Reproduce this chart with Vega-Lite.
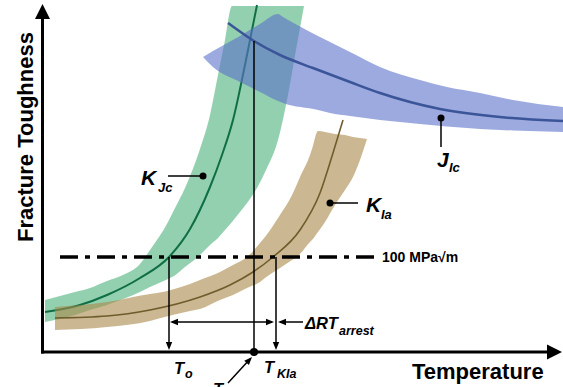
{
  "$schema": "https://vega.github.io/schema/vega-lite/v6.json",
  "width": 563,
  "height": 387,
  "padding": 0,
  "autosize": {"type": "none"},
  "background": "white",
  "config": {"view": {"stroke": null}},
  "datasets": {
    "green_band": [
      {"x":45,"y":300,"y2":322},{"x":75,"y":292,"y2":315},{"x":90,"y":288,"y2":310},{"x":107,"y":281,"y2":305},
      {"x":123,"y":275,"y2":299},{"x":140,"y":264,"y2":292},{"x":150,"y":250,"y2":287},{"x":168,"y":222,"y2":279},
      {"x":174,"y":210,"y2":276},{"x":185,"y":188,"y2":267},{"x":199,"y":152,"y2":256},{"x":210,"y":115,"y2":245},
      {"x":218,"y":75,"y2":238},{"x":225,"y":40,"y2":230},{"x":232,"y":6,"y2":222},{"x":240,"y":6,"y2":212},
      {"x":257,"y":6,"y2":188},{"x":266,"y":6,"y2":170},{"x":278,"y":6,"y2":140},{"x":287,"y":6,"y2":100},
      {"x":296,"y":6,"y2":50},{"x":304,"y":6,"y2":6}
    ],
    "green_line": [
      {"x":45,"y":312},{"x":80,"y":305},{"x":107,"y":295},{"x":140,"y":278},{"x":169,"y":257},{"x":190,"y":229},
      {"x":210,"y":187},{"x":222,"y":155},{"x":233,"y":120},{"x":245,"y":65},{"x":257,"y":5}
    ],
    "brown_band": [
      {"x":55,"y":307,"y2":330},{"x":107,"y":302,"y2":327},{"x":150,"y":294,"y2":321},{"x":157,"y":293,"y2":319},
      {"x":190,"y":284,"y2":311},{"x":200,"y":280,"y2":309},{"x":220,"y":272,"y2":300},{"x":233,"y":265,"y2":295},
      {"x":247,"y":257,"y2":288},{"x":260,"y":243,"y2":282},{"x":265,"y":237,"y2":278},{"x":280,"y":215,"y2":268},
      {"x":292,"y":195,"y2":260},{"x":297,"y":184,"y2":257},{"x":300,"y":177,"y2":254},{"x":310,"y":155,"y2":242},
      {"x":312,"y":149,"y2":240},{"x":318,"y":131,"y2":232},{"x":325,"y":132,"y2":222},{"x":335,"y":134,"y2":205},
      {"x":345,"y":135,"y2":190},{"x":353,"y":137,"y2":177},{"x":360,"y":138,"y2":160},{"x":367,"y":139,"y2":139}
    ],
    "brown_line": [
      {"x":55,"y":318},{"x":107,"y":316},{"x":150,"y":310},{"x":200,"y":297},{"x":230,"y":285},{"x":253,"y":272},
      {"x":273,"y":257},{"x":300,"y":230},{"x":320,"y":193},{"x":333,"y":153},{"x":343,"y":120}
    ],
    "blue_band": [
      {"x":203,"y":57,"y2":57},{"x":213,"y":51,"y2":67},{"x":240,"y":36,"y2":82},{"x":260,"y":24,"y2":92},
      {"x":278,"y":14,"y2":101},{"x":283,"y":17,"y2":103},{"x":318,"y":36,"y2":110},{"x":330,"y":42,"y2":113},
      {"x":350,"y":52,"y2":116},{"x":380,"y":67,"y2":120},{"x":420,"y":80,"y2":124},{"x":447,"y":87,"y2":126.5},
      {"x":480,"y":93,"y2":129},{"x":513,"y":100,"y2":130.5},{"x":563,"y":107,"y2":132}
    ],
    "blue_line": [
      {"x":228,"y":23},{"x":254,"y":41},{"x":280,"y":55},{"x":313,"y":68},{"x":350,"y":82},{"x":380,"y":93},
      {"x":440,"y":109},{"x":500,"y":117},{"x":563,"y":121}
    ],
    "dash": [{"x":60,"y":257,"x2":379,"y2":257}],
    "thin": [
      {"x":169,"y":257,"x2":169,"y2":346},
      {"x":254,"y":41,"x2":254,"y2":352},
      {"x":276,"y":257,"x2":276,"y2":346},
      {"x":172,"y":322,"x2":272,"y2":322},
      {"x":280,"y":322,"x2":303,"y2":322},
      {"x":168,"y":176,"x2":203,"y2":176},
      {"x":330,"y":203,"x2":358,"y2":203},
      {"x":441,"y":118,"x2":441,"y2":147},
      {"x":228,"y":383,"x2":250,"y2":359}
    ],
    "axes": [
      {"x":42.5,"y":16,"x2":42.5,"y2":353.5},
      {"x":41,"y":352,"x2":550,"y2":352}
    ],
    "head_up": [{"x":42.5,"y":11.5}],
    "head_right_big": [{"x":554.5,"y":352}],
    "arrow_down": [{"x":169,"y":346},{"x":276,"y":346}],
    "arrow_left": [{"x":174,"y":322},{"x":282,"y":322}],
    "arrow_right": [{"x":270,"y":322}],
    "arrow_ur": [{"x":249.3,"y":359.9}],
    "dots": [{"x":203,"y":176},{"x":330,"y":203},{"x":441,"y":118}],
    "big_dot": [{"x":254,"y":352}],
    "title_y": [{"x":26,"y":137,"t":"Fracture Toughness"}],
    "title_x": [{"x":412,"y":379,"t":"Temperature"}],
    "big_letters": [{"x":141,"y":185,"t":"K"},{"x":366,"y":212,"t":"K"},{"x":437,"y":167,"t":"J"}],
    "big_subs": [{"x":158,"y":192,"t":"Jc"},{"x":381,"y":219,"t":"Ia"},{"x":449,"y":172,"t":"Ic"}],
    "t_letters": [{"x":174,"y":374,"t":"T"},{"x":264,"y":373,"t":"T"},{"x":213,"y":395,"t":"T"},{"x":305,"y":329,"t":"ΔRT"}],
    "t_subs": [{"x":185,"y":378,"t":"o"},{"x":277,"y":378,"t":"KIa"},{"x":339,"y":335,"t":"arrest"}],
    "threshold_label": [{"x":382,"y":262,"t":"100 MPa√m"}]
  },
  "encoding": {
    "x": {"field": "x", "type": "quantitative", "scale": {"domain": [0, 563], "nice": false, "zero": false}, "axis": null},
    "y": {"field": "y", "type": "quantitative", "scale": {"domain": [0, 387], "nice": false, "zero": false, "reverse": true}, "axis": null}
  },
  "layer": [
    {"data": {"name": "green_band"}, "mark": {"type": "area", "color": "#3aaa6e", "opacity": 0.55, "interpolate": "monotone"}, "encoding": {"y2": {"field": "y2"}}},
    {"data": {"name": "green_line"}, "mark": {"type": "line", "color": "#0f6e45", "strokeWidth": 2, "interpolate": "monotone"}, "encoding": {}},
    {"data": {"name": "brown_band"}, "mark": {"type": "area", "color": "#a8884a", "opacity": 0.6, "interpolate": "monotone"}, "encoding": {"y2": {"field": "y2"}}},
    {"data": {"name": "brown_line"}, "mark": {"type": "line", "color": "#6e5c2c", "strokeWidth": 1.6, "interpolate": "monotone"}, "encoding": {}},
    {"data": {"name": "blue_band"}, "mark": {"type": "area", "color": "#5b72c9", "opacity": 0.6, "interpolate": "monotone"}, "encoding": {"y2": {"field": "y2"}}},
    {"data": {"name": "blue_line"}, "mark": {"type": "line", "color": "#3a5598", "strokeWidth": 2.5, "interpolate": "monotone"}, "encoding": {}},
    {"data": {"name": "dash"}, "mark": {"type": "rule", "color": "black", "strokeWidth": 3.5, "strokeDash": [18, 7, 5, 7], "strokeCap": "butt"}, "encoding": {"x2": {"field": "x2"}, "y2": {"field": "y2"}}},
    {"data": {"name": "thin"}, "mark": {"type": "rule", "color": "black", "strokeWidth": 1.5}, "encoding": {"x2": {"field": "x2"}, "y2": {"field": "y2"}}},
    {"data": {"name": "axes"}, "mark": {"type": "rule", "color": "black", "strokeWidth": 3}, "encoding": {"x2": {"field": "x2"}, "y2": {"field": "y2"}}},
    {"data": {"name": "head_up"}, "mark": {"type": "point", "shape": "M0,-1L1,1L-1,1Z", "filled": true, "color": "black", "size": 225, "opacity": 1, "strokeWidth": 0}},
    {"data": {"name": "head_right_big"}, "mark": {"type": "point", "shape": "M0,-1L1,1L-1,1Z", "angle": 90, "filled": true, "color": "black", "size": 225, "opacity": 1, "strokeWidth": 0}},
    {"data": {"name": "arrow_down"}, "mark": {"type": "point", "shape": "M0,-1L0.8,1L-0.8,1Z", "angle": 180, "filled": true, "color": "black", "size": 64, "opacity": 1, "strokeWidth": 0}},
    {"data": {"name": "arrow_left"}, "mark": {"type": "point", "shape": "M0,-1L0.8,1L-0.8,1Z", "angle": 270, "filled": true, "color": "black", "size": 64, "opacity": 1, "strokeWidth": 0}},
    {"data": {"name": "arrow_right"}, "mark": {"type": "point", "shape": "M0,-1L0.8,1L-0.8,1Z", "angle": 90, "filled": true, "color": "black", "size": 64, "opacity": 1, "strokeWidth": 0}},
    {"data": {"name": "arrow_ur"}, "mark": {"type": "point", "shape": "M0,-1L0.8,1L-0.8,1Z", "angle": 43, "filled": true, "color": "black", "size": 64, "opacity": 1, "strokeWidth": 0}},
    {"data": {"name": "dots"}, "mark": {"type": "circle", "color": "black", "size": 49, "opacity": 1}},
    {"data": {"name": "big_dot"}, "mark": {"type": "circle", "color": "black", "size": 64, "opacity": 1}},
    {"data": {"name": "title_y"}, "mark": {"type": "text", "font": "Liberation Sans", "fontWeight": "bold", "fontSize": 22, "angle": 270, "align": "center", "baseline": "middle", "color": "black"}, "encoding": {"text": {"field": "t"}}},
    {"data": {"name": "title_x"}, "mark": {"type": "text", "font": "Liberation Sans", "fontWeight": "bold", "fontSize": 22, "align": "left", "baseline": "alphabetic", "color": "black"}, "encoding": {"text": {"field": "t"}}},
    {"data": {"name": "big_letters"}, "mark": {"type": "text", "font": "Liberation Sans", "fontWeight": "bold", "fontStyle": "italic", "fontSize": 21, "align": "left", "baseline": "alphabetic", "color": "black"}, "encoding": {"text": {"field": "t"}}},
    {"data": {"name": "big_subs"}, "mark": {"type": "text", "font": "Liberation Sans", "fontWeight": "bold", "fontStyle": "italic", "fontSize": 13, "align": "left", "baseline": "alphabetic", "color": "black"}, "encoding": {"text": {"field": "t"}}},
    {"data": {"name": "t_letters"}, "mark": {"type": "text", "font": "Liberation Sans", "fontWeight": "bold", "fontStyle": "italic", "fontSize": 16.5, "align": "left", "baseline": "alphabetic", "color": "black"}, "encoding": {"text": {"field": "t"}}},
    {"data": {"name": "t_subs"}, "mark": {"type": "text", "font": "Liberation Sans", "fontWeight": "bold", "fontStyle": "italic", "fontSize": 12.5, "align": "left", "baseline": "alphabetic", "color": "black"}, "encoding": {"text": {"field": "t"}}},
    {"data": {"name": "threshold_label"}, "mark": {"type": "text", "font": "Liberation Sans", "fontWeight": "bold", "fontSize": 14, "align": "left", "baseline": "alphabetic", "color": "black"}, "encoding": {"text": {"field": "t"}}}
  ]
}
